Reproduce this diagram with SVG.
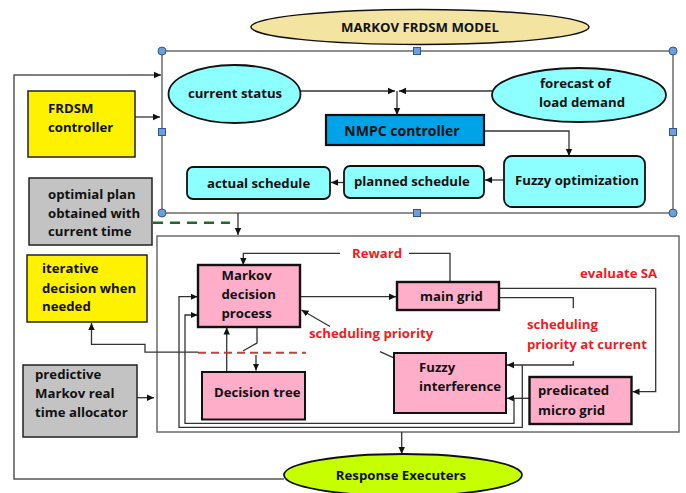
<svg xmlns="http://www.w3.org/2000/svg" width="686" height="493" viewBox="0 0 686 493">
<defs>
<marker id="ah" markerWidth="8" markerHeight="8" refX="7" refY="4" orient="auto" markerUnits="userSpaceOnUse">
<path d="M0,0.8 L7,4 L0,7.2 Z" fill="#111"/>
</marker>
<style>
text{font-family:"Open Sans","Noto Sans","DejaVu Sans",sans-serif;font-weight:700;font-size:13.2px;fill:#111}
.red{fill:#ED1C24}
.ln{fill:none;stroke:#333;stroke-width:1.3}
.arr{fill:none;stroke:#333;stroke-width:1.3;marker-end:url(#ah)}
.cy{fill:#8DFFFF;stroke:#111;stroke-width:1.8}
.pk{fill:#FFAEC9;stroke:#111;stroke-width:2.4}
.yl{fill:#FFF200;stroke:#222;stroke-width:1.5}
.gr{fill:#C3C3C3;stroke:#222;stroke-width:1.5}
.frame{fill:none;stroke:#6b6b6b;stroke-width:1.5}
.hc{fill:#6F9FD8;stroke:#2F5597;stroke-width:1}
</style>
</defs>
<rect width="686" height="493" fill="#fff"/>

<g id="title">
<ellipse cx="420" cy="27" rx="169" ry="17.5" fill="#F4E4A1" stroke="#111" stroke-width="1.5"/>
<text x="420" y="31.5" text-anchor="middle">MARKOV FRDSM MODEL</text>
</g>

<g id="top-frame">
<rect class="frame" x="162" y="51" width="511" height="162"/>
<circle class="hc" cx="162" cy="51" r="4"/>
<circle class="hc" cx="673" cy="51" r="4"/>
<circle class="hc" cx="162" cy="213" r="4"/>
<circle class="hc" cx="673" cy="213" r="4"/>
<rect class="hc" x="413.5" y="47.5" width="7" height="7"/>
<rect class="hc" x="413.5" y="209.5" width="7" height="7"/>
<rect class="hc" x="158.5" y="128.5" width="7" height="7"/>
<rect class="hc" x="669.5" y="128.5" width="7" height="7"/>
</g>

<g id="bottom-frame">
<rect class="frame" x="157" y="236" width="522" height="196"/>
</g>

<g id="connectors">
<path class="arr" d="M301,91 H395"/>
<path class="arr" d="M492,91 H399"/>
<path class="arr" d="M397,91 V115"/>
<path class="arr" d="M484,131 H569 V156"/>
<path class="arr" d="M504,180 H485"/>
<path class="arr" d="M344,182.5 H331"/>
<path class="arr" d="M284,479 H14 V75 H161" style="stroke:#555;stroke-width:1.5"/>
<path class="arr" d="M135,117 H160"/>
<path d="M153,222.7 H230" fill="none" stroke="#1E6B2A" stroke-width="2.6" stroke-dasharray="10,7"/>
<path class="arr" d="M238,213 V235"/>
<path class="ln" d="M450,282 V253.3 H409"/>
<path class="arr" d="M340,253.3 H243.3 V265"/>
<path class="arr" d="M300,296.7 H396"/>
<path class="arr" d="M499,288.3 H655.7 V391.7 H632.5"/>
<path class="ln" d="M499,297.7 H573.3 V308.3"/>
<path class="arr" d="M573.3,361 V365 H507"/>
<path class="arr" d="M529,398.3 H507"/>
<path class="arr" d="M522.3,365 V427.3 H179 V296.7 H197.5"/>
<path class="arr" d="M514,398.3 V423.3 H185 V315 H197.5"/>
<path class="arr" d="M330,326.5 L301.5,310"/>
<path class="ln" d="M380,351.7 L395,358.3"/>
<path class="ln" d="M257,327 V343 L243,351"/>
<path class="arr" d="M256,355 V370.5"/>
<path class="arr" d="M226.7,371.7 V327.5"/>
<path class="arr" d="M198,352.2 H145 V344.3 H91.5 V323"/>
<path d="M198,352.7 H306" fill="none" stroke="#D03A3A" stroke-width="2" stroke-dasharray="8,5"/>
<path class="arr" d="M137,397.7 H154"/>
<path class="arr" d="M401.7,432 V454"/>
</g>

<g id="current-status">
<ellipse class="cy" cx="234.5" cy="94" rx="66" ry="29"/>
<text x="235" y="98" text-anchor="middle">current status</text>
</g>

<g id="forecast">
<ellipse class="cy" cx="579" cy="95" rx="87" ry="27"/>
<text x="540" y="88">forecast of</text>
<text x="539" y="107">load demand</text>
</g>

<g id="nmpc">
<rect x="326" y="115" width="158" height="30" fill="#00A2E8" stroke="#111" stroke-width="2.2"/>
<text x="402" y="136" text-anchor="middle" style="font-size:14px">NMPC controller</text>
</g>

<g id="fuzzy-optimization">
<rect class="cy" x="504" y="156" width="141" height="51" rx="8"/>
<text x="515" y="185">Fuzzy optimization</text>
</g>

<g id="planned-schedule">
<rect class="cy" x="344" y="166" width="140" height="32" rx="6"/>
<text x="354" y="186">planned schedule</text>
</g>

<g id="actual-schedule">
<rect class="cy" x="187" y="167" width="143" height="32" rx="6"/>
<text x="207" y="188">actual schedule</text>
</g>

<g id="frdsm-controller">
<rect class="yl" x="28" y="91" width="107" height="66"/>
<text x="48" y="113">FRDSM</text>
<text x="48" y="132">controller</text>
</g>

<g id="optimal-plan">
<rect class="gr" x="29" y="178" width="123" height="67"/>
<text x="48" y="199">optimial plan</text>
<text x="48" y="218">obtained with</text>
<text x="48" y="236">current time</text>
</g>

<g id="iterative-decision">
<rect class="yl" x="27" y="255" width="120" height="67"/>
<text x="42" y="273">iterative</text>
<text x="42" y="292.5">decision when</text>
<text x="42" y="311">needed</text>
</g>

<g id="predictive-allocator">
<rect class="gr" x="23" y="365" width="114" height="72"/>
<text x="35" y="379">predictive</text>
<text x="35" y="398">Markov real</text>
<text x="35" y="417">time allocator</text>
</g>

<g id="markov-decision-process">
<rect class="pk" x="198" y="265" width="102" height="62"/>
<text x="221.5" y="280">Markov</text>
<text x="221.5" y="299">decision</text>
<text x="221.5" y="318">process</text>
</g>

<g id="main-grid">
<rect class="pk" x="397" y="282" width="102" height="28"/>
<text x="420" y="301">main grid</text>
</g>

<g id="fuzzy-interference">
<rect class="pk" x="394" y="353" width="112" height="60" style="stroke-width:2"/>
<text x="419" y="372">Fuzzy</text>
<text x="419" y="391">interference</text>
</g>

<g id="predicated-micro-grid">
<rect class="pk" x="529.5" y="377" width="102" height="47"/>
<text x="538" y="395">predicated</text>
<text x="538" y="414.5">micro grid</text>
</g>

<g id="decision-tree">
<rect class="pk" x="202" y="372" width="103" height="47.5" style="stroke-width:2"/>
<text x="214" y="397">Decision tree</text>
</g>

<g id="labels">
<text class="red" x="352" y="258">Reward</text>
<text class="red" x="580" y="278">evaluate SA</text>
<text class="red" x="527" y="329">scheduling</text>
<text class="red" x="527" y="348.5">priority at current</text>
<text class="red" x="309" y="338">scheduling priority</text>
</g>

<g id="response-executers">
<ellipse cx="403" cy="475" rx="119" ry="21" fill="#C6FF00" stroke="#111" stroke-width="1.8"/>
<text x="401" y="479.5" text-anchor="middle">Response Executers</text>
</g>
</svg>
